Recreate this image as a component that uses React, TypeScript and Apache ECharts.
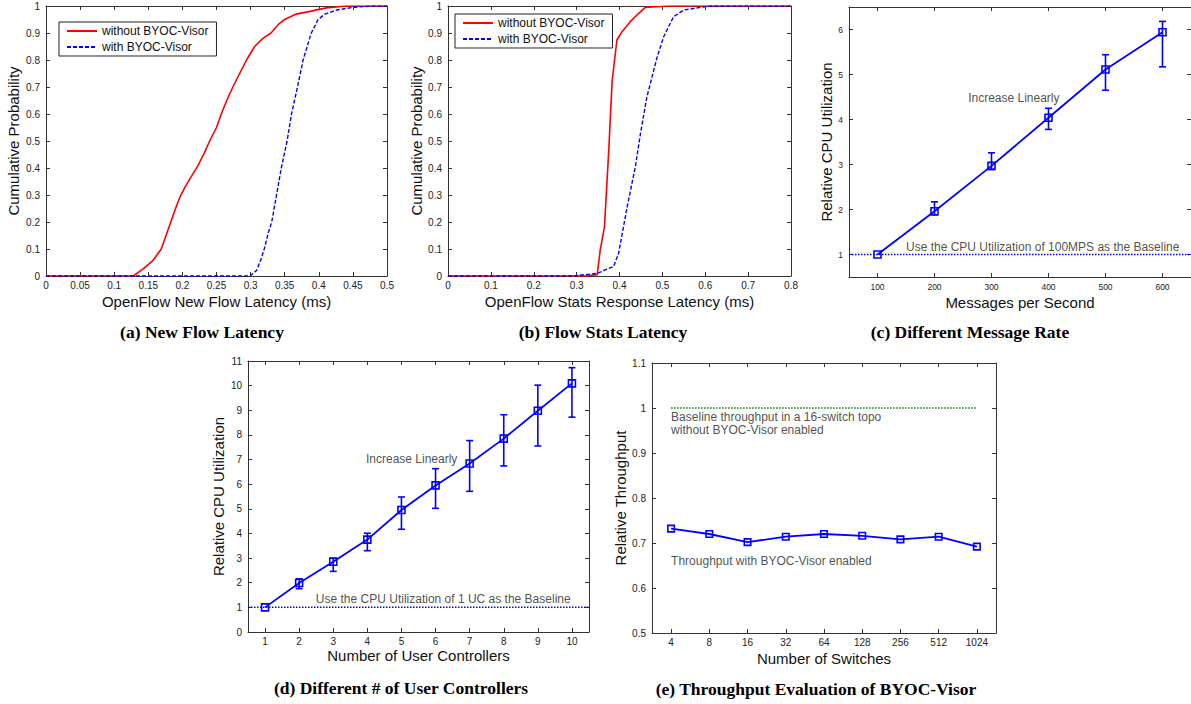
import React, { useEffect, useRef } from "react";
import * as echarts from "echarts";

// ---------- DATA ----------
const seriesNames = ["without BYOC-Visor", "with BYOC-Visor"];

// (a) New flow latency CDF  [latency ms, cumulative probability]
const newFlowWithout: [number, number][] = [
  [0, 0], [0.128, 0], [0.143, 0.027], [0.157, 0.058], [0.169, 0.1], [0.176, 0.15], [0.183, 0.2],
  [0.19, 0.25], [0.196, 0.29], [0.204, 0.33], [0.211, 0.36], [0.223, 0.41], [0.232, 0.455], [0.240, 0.5],
  [0.25, 0.55], [0.257, 0.6], [0.265, 0.65], [0.274, 0.7], [0.284, 0.75], [0.294, 0.8], [0.306, 0.85],
  [0.318, 0.88], [0.33, 0.9], [0.342, 0.935], [0.35, 0.95], [0.367, 0.97], [0.387, 0.98], [0.411, 0.993],
  [0.44, 1], [0.5, 1],
];
const newFlowWith: [number, number][] = [
  [0, 0], [0.299, 0], [0.309, 0.021], [0.315, 0.06], [0.32, 0.1], [0.326, 0.16], [0.331, 0.2],
  [0.338, 0.3], [0.345, 0.4], [0.3535, 0.5], [0.36, 0.6], [0.3687, 0.7], [0.377, 0.8], [0.383, 0.85],
  [0.389, 0.9], [0.399, 0.95], [0.409, 0.97], [0.426, 0.985], [0.45, 0.995], [0.479, 1], [0.5, 1],
];

// (b) Flow stats response latency CDF
const statsWithout: [number, number][] = [
  [0, 0], [0.32, 0], [0.348, 0.005], [0.355, 0.096], [0.365, 0.183], [0.375, 0.467], [0.383, 0.726],
  [0.394, 0.874], [0.406, 0.905], [0.425, 0.942], [0.445, 0.973], [0.46, 0.995], [0.495, 0.998],
  [0.51, 1], [0.8, 1],
];
const statsWith: [number, number][] = [
  [0, 0], [0.293, 0], [0.348, 0.01], [0.386, 0.035], [0.398, 0.084], [0.418, 0.257], [0.437, 0.405],
  [0.449, 0.528], [0.464, 0.664], [0.488, 0.812], [0.503, 0.886], [0.526, 0.96], [0.55, 0.985],
  [0.589, 0.995], [0.612, 1], [0.8, 1],
];

// (c) Different message rate
const msgRates = [100, 200, 300, 400, 500, 600];
const cpuByRate = [1.0, 1.96, 2.97, 4.04, 5.11, 5.94];
const cpuByRateLow = [1.0, 1.88, 2.89, 3.78, 4.65, 5.17];
const cpuByRateHigh = [1.0, 2.17, 3.26, 4.25, 5.44, 6.18];
const msgRateTicks = [100, 200, 300, 400, 500, 600];
const cpuRateTicks = [1, 2, 3, 4, 5, 6];

// (d) Different # of user controllers
const userControllers = [1, 2, 3, 4, 5, 6, 7, 8, 9, 10];
const cpuByUC = [1.0, 1.99, 2.85, 3.75, 4.95, 5.95, 6.84, 7.85, 8.98, 10.09];
const cpuByUCLow = [1.0, 1.76, 2.46, 3.3, 4.17, 5.02, 5.71, 6.74, 7.55, 8.72];
const cpuByUCHigh = [1.0, 2.16, 3.0, 4.01, 5.48, 6.63, 7.77, 8.82, 10.02, 10.73];
const ucTicks = [1, 2, 3, 4, 5, 6, 7, 8, 9, 10];

// (e) Throughput evaluation
const switchCounts = ["4", "8", "16", "32", "64", "128", "256", "512", "1024"];
const throughput = [0.732, 0.72, 0.702, 0.714, 0.72, 0.716, 0.708, 0.714, 0.692];
const baselineThroughput = 1;

const captions = [
  "(a) New Flow Latency",
  "(b) Flow Stats Latency",
  "(c) Different Message Rate",
  "(d) Different # of User Controllers",
  "(e) Throughput Evaluation of BYOC-Visor",
];

// text annotations anchored in data coordinates
const annotationsC = [
  { x: 259, y: 4.48, text: "Increase Linearly" },
  { x: 150, y: 1.17, text: "Use the CPU Utilization of 100MPS as the Baseline" },
];
const annotationsD = [
  { x: 3.96, y: 7.02, text: "Increase Linearly" },
  { x: 2.49, y: 1.34, text: "Use the CPU Utilization of 1 UC as the Baseline" },
];
const annotationsE = [
  { x: 0, y: 0.966, text: "Baseline throughput in a 16-switch topo\nwithout BYOC-Visor enabled" },
  { x: 0, y: 0.661, text: "Throughput with BYOC-Visor enabled" },
];

// ---------- STYLE ----------
const SANS = "'Liberation Sans', Arial, Helvetica, sans-serif";
const SERIF = "'Liberation Serif', 'Times New Roman', serif";
const AXIS = "#333";
const BLUE = "#0000ff";
const RED = "#ff0000";
const GREEN = "#008000";

const grids = [
  { left: 46, top: 6, width: 341, height: 270 },
  { left: 448, top: 6, width: 343, height: 270 },
  { left: 849, top: 7, width: 342, height: 270 },
  { left: 248, top: 361, width: 341, height: 271 },
  { left: 652, top: 363, width: 344, height: 270 },
];

function axisBase(grid: number, fontSize: number, margin: number) {
  return {
    gridIndex: grid,
    axisLine: { show: true, onZero: false, lineStyle: { color: AXIS, width: 1 } },
    axisTick: { show: true, inside: true, length: 4, lineStyle: { color: AXIS, width: 1 } },
    axisLabel: { color: "#222", fontSize, fontFamily: SANS, margin },
    splitLine: { show: false },
    nameLocation: "middle",
    nameTextStyle: { fontSize: 15, color: "#111", fontFamily: SANS },
  };
}

function pair(kind: "x" | "y", grid: number, spec: any, fontSize: number, margin: number) {
  const base = axisBase(grid, fontSize, margin);
  const main: any = { ...base, ...spec, position: kind === "x" ? "bottom" : "left" };
  if (spec.axisTick) main.axisTick = { ...base.axisTick, ...spec.axisTick };
  if (spec.axisLabel) main.axisLabel = { ...base.axisLabel, ...spec.axisLabel };
  const mirror: any = {
    ...main,
    name: "",
    position: kind === "x" ? "top" : "right",
    axisLabel: { ...main.axisLabel, show: false },
  };
  return [main, mirror];
}

function errorBars(xs: number[], lo: number[], hi: number[], xi: number, yi: number, cap: number) {
  return {
    type: "custom",
    xAxisIndex: xi,
    yAxisIndex: yi,
    silent: true,
    z: 3,
    data: xs.map((x, i) => [x, lo[i], hi[i]]),
    encode: { x: 0, y: [1, 2] },
    renderItem: (_p: any, api: any) => {
      const x = api.value(0);
      const a = api.coord([x, api.value(1)]);
      const b = api.coord([x, api.value(2)]);
      const st = { stroke: BLUE, lineWidth: 1.6 };
      return {
        type: "group",
        children: [
          { type: "line", shape: { x1: a[0], y1: a[1], x2: b[0], y2: b[1] }, style: st },
          { type: "line", shape: { x1: a[0] - cap, y1: a[1], x2: a[0] + cap, y2: a[1] }, style: st },
          { type: "line", shape: { x1: b[0] - cap, y1: b[1], x2: b[0] + cap, y2: b[1] }, style: st },
        ],
      };
    },
  };
}

function annotationSeries(list: { x: number; y: number; text: string }[], xi: number, yi: number, lineHeight = 14) {
  return {
    type: "scatter",
    xAxisIndex: xi,
    yAxisIndex: yi,
    symbolSize: 0,
    silent: true,
    z: 5,
    data: list.map((a) => ({ value: [a.x, a.y], name: a.text })),
    label: {
      show: true,
      position: "right",
      distance: 0,
      formatter: "{b}",
      fontSize: 12,
      lineHeight,
      color: "#222",
      fontFamily: SANS,
    },
  };
}

function buildOption() {
  const xAxis: any[] = [];
  const yAxis: any[] = [];

  // (a)
  xAxis.push(...pair("x", 0, { type: "value", min: 0, max: 0.5, interval: 0.05, name: "OpenFlow New Flow Latency (ms)", nameGap: 18 }, 10, 4));
  yAxis.push(...pair("y", 0, { type: "value", min: 0, max: 1, interval: 0.1, name: "Cumulative Probability", nameGap: 25 }, 10, 6));
  // (b)
  xAxis.push(...pair("x", 1, { type: "value", min: 0, max: 0.8, interval: 0.1, name: "OpenFlow Stats Response Latency (ms)", nameGap: 17.5 }, 10, 4));
  yAxis.push(...pair("y", 1, { type: "value", min: 0, max: 1, interval: 0.1, name: "Cumulative Probability", nameGap: 24 }, 10, 6));
  // (c)
  xAxis.push(...pair("x", 2, {
    type: "value", min: 50, max: 650, name: "Messages per Second", nameGap: 17.5,
    axisTick: { customValues: msgRateTicks }, axisLabel: { customValues: msgRateTicks },
  }, 8.5, 5));
  yAxis.push(...pair("y", 2, {
    type: "value", min: 0.5, max: 6.5, name: "Relative CPU Utilization", nameGap: 15,
    axisTick: { customValues: cpuRateTicks }, axisLabel: { customValues: cpuRateTicks },
  }, 8.5, 6));
  // (d)
  xAxis.push(...pair("x", 3, {
    type: "value", min: 0.5, max: 10.5, name: "Number of User Controllers", nameGap: 16,
    axisTick: { customValues: ucTicks }, axisLabel: { customValues: ucTicks },
  }, 10, 4));
  yAxis.push(...pair("y", 3, { type: "value", min: 0, max: 11, interval: 1, name: "Relative CPU Utilization", nameGap: 22 }, 10, 6));
  // (e)
  xAxis.push(...pair("x", 4, {
    type: "category", data: switchCounts, boundaryGap: true, name: "Number of Switches", nameGap: 18,
    axisTick: { alignWithLabel: true, interval: 0 }, axisLabel: { interval: 0 },
  }, 10, 4));
  yAxis.push(...pair("y", 4, { type: "value", min: 0.5, max: 1.1, interval: 0.1, name: "Relative Throughput", nameGap: 24 }, 10, 6));

  const cdf = (data: [number, number][], i: number, dashed: boolean, name: string) => ({
    type: "line",
    name,
    xAxisIndex: i * 2,
    yAxisIndex: i * 2,
    data,
    symbol: "none",
    showSymbol: false,
    silent: true,
    lineStyle: { color: dashed ? BLUE : RED, width: dashed ? 1.4 : 1.6, type: dashed ? [4, 2] : "solid" },
    itemStyle: { color: dashed ? BLUE : RED },
  });

  const markerLine = (xs: any[], ys: number[], p: number, size: number) => ({
    type: "line",
    xAxisIndex: p * 2,
    yAxisIndex: p * 2,
    data: xs.map((x, i) => [x, ys[i]]),
    symbol: "rect",
    symbolSize: size,
    showSymbol: true,
    silent: true,
    z: 4,
    lineStyle: { color: BLUE, width: 1.8 },
    itemStyle: { color: "rgba(0,0,0,0)", borderColor: BLUE, borderWidth: 1.6 },
  });

  const baseline = (x0: any, x1: any, y: number, p: number, color: string) => ({
    type: "line",
    xAxisIndex: p * 2,
    yAxisIndex: p * 2,
    data: [[x0, y], [x1, y]],
    symbol: "none",
    silent: true,
    lineStyle: { color, width: 1.5, type: [1.5, 1.5] },
  });

  const series: any[] = [
    cdf(newFlowWithout, 0, false, seriesNames[0]),
    cdf(newFlowWith, 0, true, seriesNames[1]),
    cdf(statsWithout, 1, false, seriesNames[0]),
    cdf(statsWith, 1, true, seriesNames[1]),

    baseline(50, 650, 1, 2, BLUE),
    errorBars(msgRates.slice(1), cpuByRateLow.slice(1), cpuByRateHigh.slice(1), 4, 4, 3.5),
    markerLine(msgRates, cpuByRate, 2, 7),
    annotationSeries(annotationsC, 4, 4),

    baseline(0.5, 10.5, 1, 3, BLUE),
    errorBars(userControllers.slice(1), cpuByUCLow.slice(1), cpuByUCHigh.slice(1), 6, 6, 3.5),
    markerLine(userControllers, cpuByUC, 3, 7),
    annotationSeries(annotationsD, 6, 6),

    baseline(switchCounts[0], switchCounts[switchCounts.length - 1], baselineThroughput, 4, GREEN),
    markerLine(switchCounts, throughput, 4, 6.5),
    annotationSeries(annotationsE, 8, 8, 13.5),
  ];

  const legendBase = {
    orient: "vertical",
    data: seriesNames,
    borderColor: "#222",
    borderWidth: 1,
    backgroundColor: "#fff",
    padding: [3, 8, 3, 7],
    itemGap: 4,
    itemWidth: 30,
    itemHeight: 12,
    selectedMode: false,
    itemStyle: { opacity: 0, borderWidth: 0 },
    textStyle: { fontSize: 12, fontFamily: SANS, color: "#111" },
  };

  const captionPos = [
    { x: 202, y: 332 },
    { x: 603, y: 332 },
    { x: 970, y: 332 },
    { x: 401, y: 688 },
    { x: 816, y: 689 },
  ];

  return {
    animation: false,
    backgroundColor: "#fff",
    grid: grids.map((g) => ({ ...g, containLabel: false })),
    xAxis,
    yAxis,
    series,
    legend: [
      { ...legendBase, left: 59, top: 22 },
      { ...legendBase, left: 455, top: 14 },
    ],
    graphic: captions.map((c, i) => ({
      type: "text",
      x: captionPos[i].x,
      y: captionPos[i].y,
      silent: true,
      style: {
        text: c,
        fontFamily: SERIF,
        fontWeight: "bold",
        fontSize: 17.5,
        fill: "#000",
        align: "center",
        verticalAlign: "middle",
      },
    })),
  };
}

export default function App() {
  const ref = useRef<HTMLDivElement>(null);
  useEffect(() => {
    if (!ref.current) return;
    const chart = echarts.init(ref.current, null, { renderer: "svg" });
    chart.setOption(buildOption() as any);
    return () => chart.dispose();
  }, []);
  return (
    <div
      ref={ref}
      style={{ position: "absolute", left: 0, top: 0, width: 1191, height: 704, background: "#fff" }}
    />
  );
}
